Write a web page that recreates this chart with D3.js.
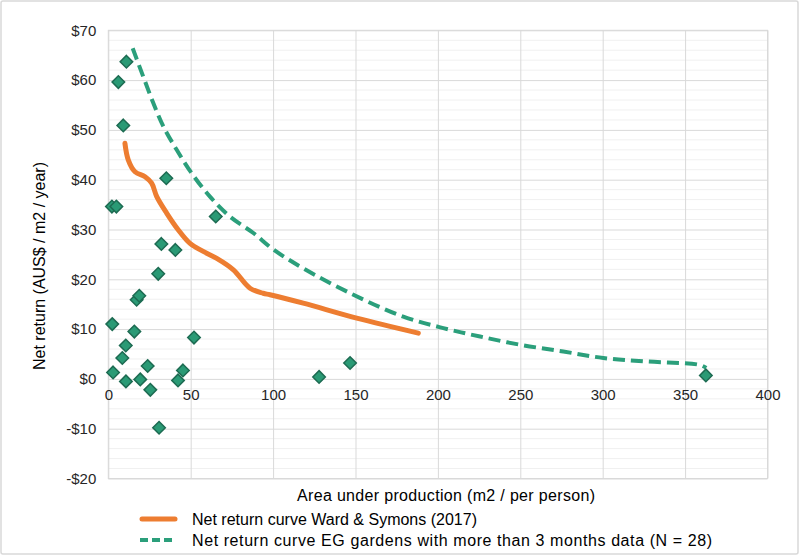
<!DOCTYPE html>
<html><head><meta charset="utf-8">
<script src="https://cdn.jsdelivr.net/npm/d3@7"></script>
<style>body{margin:0;background:#fff}svg{display:block}text{font-family:"Liberation Sans",Arial,sans-serif}</style>
</head><body><svg id="c" width="800" height="556"></svg>
<script>
const gardenArea = [35.2,2.2,4.9,65.2,32.2,40.7,30.3,17.2,18.8,2.4,15.8,52,10.6,8.5,23.9,2.9,45.3,10.7,19.4,42.3,25.5,30.8,11.0,6.1,9.1,127.9,146.7,362.6];
const gardenReturn = [40.3,34.6,34.6,32.6,27.1,25.9,21.1,15.9,16.7,11.0,9.5,8.3,6.7,4.2,2.6,1.3,1.7,-0.5,-0.1,-0.3,-2.2,-9.8,63.7,59.6,50.9,0.4,3.2,0.7];
const wardArea = [10.1,12.1,16.2,22.3,26.3,29.4,35.4,42.5,49.6,57.6,65.8,75.9,86,94,98.1,118.3,150.7,188.1];
const wardReturn = [47.3,44.0,41.6,40.6,39.3,36.6,33.3,29.9,27.2,25.6,24.2,21.9,18.2,17.2,16.9,15.2,12.2,9.2];
const egArea = [14.8,21.2,27.3,33.4,41.5,50.6,61.7,73.8,88,100.1,118.3,148.7,179,203.3,225.6,250.8,276.1,300.4,326.7,359,362.8];
const egReturn = [66.4,60.7,55.4,50.7,46.0,41.3,36.6,32.6,29.3,26.0,22.2,16.9,12.5,10.2,8.5,6.8,5.5,4.2,3.5,2.8,2.2];
const xTicks = [0,50,100,150,200,250,300,350,400];
const yTicks = [70,60,50,40,30,20,10,0,-10,-20];
const legendLabels = ["Net return curve Ward & Symons (2017)","Net return curve EG gardens with more than 3 months data (N = 28)"];
const xTitle = "Area under production (m2 / per person)";
const yTitle = "Net return (AUS$ / m2 / year)";

const svg = d3.select("#c");
const x = d3.scaleLinear().domain([0,400]).range([108.3,767.5]);
const y = d3.scaleLinear().domain([-20,70]).range([478.5,30.3]);
const green = "#2b9f7b", orange = "#ed7d31";

svg.append("rect").attr("x",1).attr("y",1).attr("width",797).attr("height",553)
  .attr("fill","#fff").attr("stroke","#d9d9d9").attr("stroke-width",1.5).attr("rx",2);

// minor gridlines
const minor = d3.range(-20,70,2).filter(v=>v%10!==0);
svg.append("g").selectAll("line").data(minor).join("line")
  .attr("x1",x(0)).attr("x2",x(400)).attr("y1",d=>y(d)).attr("y2",d=>y(d))
  .attr("stroke","#f0f0f0").attr("stroke-width",1);

// major grid
const gy = svg.append("g").attr("transform",`translate(${x(0)},0)`)
  .call(d3.axisLeft(y).tickValues(yTicks).tickSize(-(x(400)-x(0))).tickFormat(d=> d<0?`-$${-d}`:`$${d}`));
gy.select(".domain").remove();
gy.selectAll("line").attr("stroke","#d9d9d9");
gy.selectAll("text").attr("x",-12).attr("font-size",15).attr("fill","#262626");

const gx = svg.append("g").attr("transform",`translate(0,${y(-20)})`)
  .call(d3.axisBottom(x).tickValues(xTicks).tickSize(-(y(-20)-y(70))).tickFormat(""));
gx.select(".domain").remove();
gx.selectAll("line").attr("stroke","#d9d9d9");
svg.append("rect").attr("x",x(0)).attr("y",y(70)).attr("width",x(400)-x(0)).attr("height",y(-20)-y(70))
  .attr("fill","none").attr("stroke","#d9d9d9");

// x tick labels at y=0
const gx0 = svg.append("g").attr("transform",`translate(0,${y(0)})`)
  .call(d3.axisBottom(x).tickValues(xTicks).tickSize(0).tickFormat(d3.format("d")));
gx0.select(".domain").remove();
gx0.selectAll("text").attr("y",10).attr("font-size",15).attr("fill","#262626");

// lines
svg.append("path").datum(wardArea.map((a,i)=>[a,wardReturn[i]]))
  .attr("d",d3.line().x(d=>x(d[0])).y(d=>y(d[1])).curve(d3.curveCatmullRom))
  .attr("fill","none").attr("stroke",orange).attr("stroke-width",5).attr("stroke-linecap","round");
svg.append("path").datum(egArea.map((a,i)=>[a,egReturn[i]]))
  .attr("d",d3.line().x(d=>x(d[0])).y(d=>y(d[1])).curve(d3.curveCatmullRom))
  .attr("fill","none").attr("stroke",green).attr("stroke-width",4).attr("stroke-dasharray","12,6");

// points
svg.append("g").selectAll("path").data(gardenArea.map((a,i)=>[a,gardenReturn[i]])).join("path")
  .attr("d",d3.symbol().type(d3.symbolDiamond2).size(100))
  .attr("transform",d=>`translate(${x(d[0])},${y(d[1])})`)
  .attr("fill","#2a9a75").attr("stroke","#1d6b52").attr("stroke-width",1.5);

// titles
svg.append("text").attr("x",446).attr("y",501).attr("text-anchor","middle").attr("font-size",16)
  .attr("textLength",298).attr("lengthAdjust","spacing").attr("fill","#000").text(xTitle);
svg.append("text").attr("transform","translate(45,266) rotate(-90)").attr("text-anchor","middle").attr("font-size",16).attr("fill","#000").text(yTitle);

// legend
const lg = svg.append("g");
lg.append("line").attr("x1",142).attr("x2",175).attr("y1",519).attr("y2",519).attr("stroke",orange).attr("stroke-width",5).attr("stroke-linecap","round");
lg.append("line").attr("x1",140).attr("x2",176).attr("y1",540).attr("y2",540).attr("stroke",green).attr("stroke-width",4).attr("stroke-dasharray","8,4");
const legendWidths = [285,520];
lg.selectAll("text").data(legendLabels).join("text")
  .attr("x",192).attr("y",(d,i)=>525+i*21).attr("font-size",16).attr("fill","#000")
  .attr("textLength",(d,i)=>legendWidths[i]).attr("lengthAdjust","spacing").text(d=>d);
</script></body></html>
